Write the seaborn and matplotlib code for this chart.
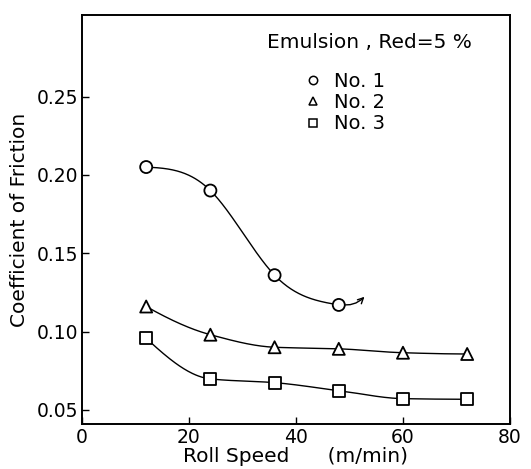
import numpy as np
import pandas as pd
import matplotlib
matplotlib.use("Agg")
import matplotlib.pyplot as plt
import seaborn as sns
from matplotlib.lines import Line2D

# ---- data ----
speed = [12, 24, 36, 48, 60, 72]
no1 = [0.205, 0.190, 0.136, 0.117]
no2 = [0.116, 0.098, 0.090, 0.089, 0.0865, 0.0857]
no3 = [0.0957, 0.0698, 0.0674, 0.0623, 0.0572, 0.0568]
series_names = ["No. 1", "No. 2", "No. 3"]
legend_title = "Emulsion , Red=5 %"
x_ticks = [0, 20, 40, 60, 80]
y_ticks = [0.05, 0.10, 0.15, 0.20, 0.25]
y_tick_labels = ["0.05", "0.10", "0.15", "0.20", "0.25"]

rows = []
for name, vals in zip(series_names, [no1, no2, no3]):
    for x, y in zip(speed, vals):
        rows.append({"speed": x, "mu": y, "series": name})
df = pd.DataFrame(rows)


def natural_spline(x, y, n=300):
    x = np.asarray(x, float); y = np.asarray(y, float)
    k = len(x)
    h = np.diff(x)
    A = np.zeros((k, k)); b = np.zeros(k)
    A[0, 0] = A[-1, -1] = 1
    for i in range(1, k - 1):
        A[i, i - 1] = h[i - 1]
        A[i, i] = 2 * (h[i - 1] + h[i])
        A[i, i + 1] = h[i]
        b[i] = 3 * ((y[i + 1] - y[i]) / h[i] - (y[i] - y[i - 1]) / h[i - 1])
    c = np.linalg.solve(A, b)
    xs = np.linspace(x[0], x[-1], n)
    idx = np.clip(np.searchsorted(x, xs) - 1, 0, k - 2)
    dx = xs - x[idx]
    bb = (y[idx + 1] - y[idx]) / h[idx] - h[idx] * (2 * c[idx] + c[idx + 1]) / 3
    d = (c[idx + 1] - c[idx]) / (3 * h[idx])
    ys = y[idx] + bb * dx + c[idx] * dx ** 2 + d * dx ** 3
    return xs, ys


def pchip(x, y, n=300):
    """Monotone piecewise cubic Hermite curve through the data points."""
    x = np.asarray(x, float); y = np.asarray(y, float)
    h = np.diff(x); delta = np.diff(y) / h
    k = len(x)
    d = np.zeros(k)
    for i in range(1, k - 1):
        if delta[i - 1] * delta[i] > 0:
            w1 = 2 * h[i] + h[i - 1]
            w2 = h[i] + 2 * h[i - 1]
            d[i] = (w1 + w2) / (w1 / delta[i - 1] + w2 / delta[i])

    def edge(h0, h1, m0, m1):
        dd = ((2 * h0 + h1) * m0 - h0 * m1) / (h0 + h1)
        if np.sign(dd) != np.sign(m0):
            dd = 0.0
        elif np.sign(m0) != np.sign(m1) and abs(dd) > abs(3 * m0):
            dd = 3 * m0
        return dd
    d[0] = edge(h[0], h[1], delta[0], delta[1])
    d[-1] = edge(h[-1], h[-2], delta[-1], delta[-2])
    xs = np.linspace(x[0], x[-1], n)
    idx = np.clip(np.searchsorted(x, xs) - 1, 0, k - 2)
    t = (xs - x[idx]) / h[idx]
    h00 = 2 * t**3 - 3 * t**2 + 1
    h10 = t**3 - 2 * t**2 + t
    h01 = -2 * t**3 + 3 * t**2
    h11 = t**3 - t**2
    ys = (h00 * y[idx] + h10 * h[idx] * d[idx] + h01 * y[idx + 1]
          + h11 * h[idx] * d[idx + 1])
    return xs, ys


sns.set_style("ticks")
plt.rcParams["font.family"] = ["DejaVu Sans"]
plt.rcParams["text.color"] = "black"
plt.rcParams["axes.labelcolor"] = "black"

fig = plt.figure(figsize=(5.31, 4.69), dpi=100)
ax = fig.add_axes([0.1544, 0.0959, 0.806, 0.872])

# smooth curves through the points
curves = []
for name, vals in zip(series_names, [no1, no2, no3]):
    fit = natural_spline if name == "No. 1" else pchip
    xs, ys = fit(speed[:len(vals)], vals)
    curves.append(pd.DataFrame({"speed": xs, "mu": ys, "series": name}))
cdf = pd.concat(curves)
sns.lineplot(data=cdf, x="speed", y="mu", units="series", estimator=None,
             color="black", lw=1.0, ax=ax, legend=False, sort=False)

# arrow continuing No. 1
ax.annotate("", xy=(52.8, 0.1222), xytext=(48.3, 0.1172),
            arrowprops=dict(arrowstyle="->", color="black", lw=1.0,
                            connectionstyle="arc3,rad=0.25",
                            shrinkA=0, shrinkB=0))

markers = {"No. 1": "o", "No. 2": "^", "No. 3": "s"}
sns.scatterplot(data=df, x="speed", y="mu", style="series", markers=markers,
                s=75, facecolor="white", edgecolor="black", linewidth=1.3,
                ax=ax, legend=False, zorder=3)

ax.set_xlim(0, 80)
ax.set_ylim(0.041, 0.302)
ax.set_xticks(x_ticks)
ax.set_yticks(y_ticks)
ax.set_yticklabels(y_tick_labels)
ax.tick_params(direction="in", length=5, width=1.0, labelsize=13.5, pad=3,
               colors="black")
for sp in ax.spines.values():
    sp.set_visible(True)
    sp.set_linewidth(1.4)
    sp.set_color("black")

ax.set_xlabel("Roll Speed      (m/min)", fontsize=14.5, labelpad=0,
              color="black")
ax.set_ylabel("Coefficient of Friction", fontsize=14.5, labelpad=5,
              color="black")

# legend title + entries
ax.text(0.432, 0.932, legend_title, transform=ax.transAxes, fontsize=14.5,
        ha="left", va="center", color="black")
handles = [Line2D([], [], ls="none", marker=markers[n], markersize=6,
                  markerfacecolor="white", markeredgecolor="black",
                  markeredgewidth=1.1, label=n) for n in series_names]
leg = ax.legend(handles=handles, frameon=False, loc="upper left",
                bbox_to_anchor=(0.49, 0.885), fontsize=14,
                handletextpad=0.5, labelspacing=0.12, borderpad=0.0,
                handlelength=1.2, labelcolor="black")

fig.savefig("out.png", dpi=100)
